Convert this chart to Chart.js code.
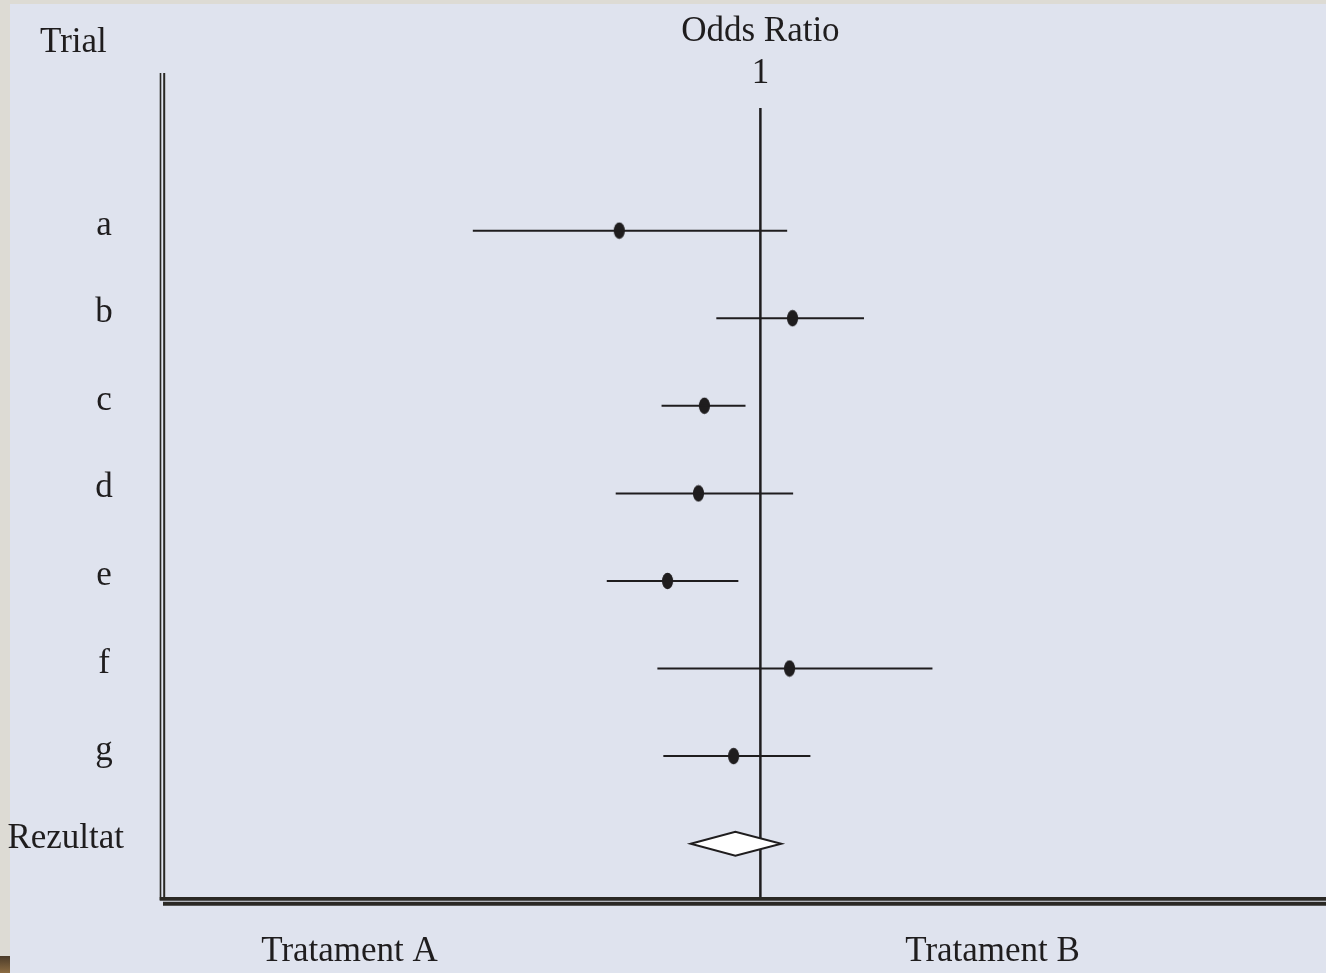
<!DOCTYPE html>
<html>
<head>
<meta charset="utf-8">
<title>Odds Ratio</title>
<script src="https://cdn.jsdelivr.net/npm/chart.js@4.4.1/dist/chart.umd.min.js"></script>
<style>
    html, body { margin: 0; padding: 0; overflow: hidden; }
    body { width: 1326px; height: 973px; background: #dddbd4; position: relative; }
    #panel { position: absolute; left: 10px; top: 4px; width: 1316px; height: 969px; background: #dfe3ee; }
    #corner { position: absolute; left: 0; top: 956px; width: 10px; height: 17px;
              background: linear-gradient(#4b3b29, #8c6c42); }
    #forest { position: absolute; left: 0; top: 0; }
</style>
</head>
<body>
<div id="panel"></div>
<div id="corner"></div>
<canvas id="forest" width="1326" height="973"></canvas>
<script>
(function () {
    'use strict';

    // --- data ---
    const trials    = ['a', 'b', 'c', 'd', 'e', 'f', 'g'];
    const oddsRatio = [0.763, 1.054, 0.906, 0.896, 0.844, 1.049, 0.955];
    const ciLow     = [0.517, 0.926, 0.834, 0.757, 0.742, 0.827, 0.837];
    const ciHigh    = [1.045, 1.174, 0.975, 1.055, 0.963, 1.289, 1.084];

    const summaryLabel = 'Rezultat';
    const summaryOR    = 0.958;
    const summaryLow   = 0.883;
    const summaryHigh  = 1.035;

    const nullValue   = 1;
    const nullLabel   = '1';
    const xTitle      = 'Odds Ratio';
    const rowTitle    = 'Trial';
    const sideLabels  = ['Tratament A', 'Tratament B'];
    const sideAnchors = [0.31, 1.39];   // odds-ratio value where each caption is centred

    // --- style ---
    const INK   = '#1f1d1e';
    const AXIS  = '#2a2824';
    const FONT  = '35px "Liberation Serif", "Times New Roman", serif';

    // ellipse marker for the point estimates
    const dot = document.createElement('canvas');
    dot.width = 13; dot.height = 18;
    (function () {
        const c = dot.getContext('2d');
        c.fillStyle = INK;
        c.beginPath();
        c.ellipse(6.5, 9, 5.6, 8.2, 0, 0, Math.PI * 2);
        c.fill();
    })();

    const datasets = trials.map((t, i) => ({
        label: t,
        data: [{ x: ciLow[i], y: i }, { x: ciHigh[i], y: i }],
        showLine: true,
        borderColor: INK,
        borderWidth: 2,
        pointRadius: 0,
        pointHoverRadius: 0
    }));
    datasets.push({
        label: 'OR',
        data: trials.map((t, i) => ({ x: oddsRatio[i], y: i })),
        showLine: false,
        pointStyle: dot,
        pointRadius: 9,
        pointHoverRadius: 9
    });

    const x1Pixel = (xs) => xs.getPixelForValue(nullValue);

    const forestPlugin = {
        id: 'forest',
        beforeDatasetsDraw(chart) {
            const ctx = chart.ctx;
            const { top, bottom } = chart.chartArea;
            const x1 = x1Pixel(chart.scales.x);
            ctx.save();
            // null line
            ctx.strokeStyle = INK;
            ctx.lineWidth = 2.5;
            ctx.beginPath();
            ctx.moveTo(x1, top + 35);
            ctx.lineTo(x1, bottom);
            ctx.stroke();
            ctx.restore();
        },
        afterDatasetsDraw(chart) {
            const ctx = chart.ctx;
            const xs = chart.scales.x, ys = chart.scales.y;
            const { top, bottom, left, right } = chart.chartArea;
            ctx.save();

            // double axes
            ctx.strokeStyle = AXIS;
            ctx.lineWidth = 1.6;
            ctx.beginPath();
            ctx.moveTo(left - 4.5, top);
            ctx.lineTo(left - 4.5, bottom + 2);
            ctx.stroke();
            ctx.lineWidth = 2;
            ctx.beginPath();
            ctx.moveTo(left - 0.8, top);
            ctx.lineTo(left - 0.8, bottom + 2);
            ctx.stroke();

            ctx.lineWidth = 3.8;
            ctx.beginPath();
            ctx.moveTo(left - 5.3, bottom + 0.8);
            ctx.lineTo(right, bottom + 0.8);
            ctx.stroke();
            ctx.lineWidth = 4;
            ctx.beginPath();
            ctx.moveTo(left - 2, bottom + 5.7);
            ctx.lineTo(right, bottom + 5.7);
            ctx.stroke();

            // summary diamond
            const yd = ys.getPixelForValue(trials.length);
            ctx.beginPath();
            ctx.moveTo(xs.getPixelForValue(summaryLow), yd);
            ctx.lineTo(xs.getPixelForValue(summaryOR), yd - 12);
            ctx.lineTo(xs.getPixelForValue(summaryHigh), yd);
            ctx.lineTo(xs.getPixelForValue(summaryOR), yd + 12);
            ctx.closePath();
            ctx.fillStyle = '#ffffff';
            ctx.fill();
            ctx.lineWidth = 2;
            ctx.strokeStyle = INK;
            ctx.stroke();

            // texts
            ctx.fillStyle = INK;
            ctx.font = FONT;
            ctx.textBaseline = 'alphabetic';
            ctx.textAlign = 'center';
            const rows = trials.concat([summaryLabel]);
            rows.forEach((r, i) => {
                const w = ctx.measureText(r).width;
                const cx = Math.min(104, 124 - w / 2);
                ctx.fillText(r, cx, ys.getPixelForValue(i) + 4);
            });

            ctx.textAlign = 'left';
            ctx.fillText(rowTitle, 40, 52);

            ctx.textAlign = 'center';
            ctx.fillText(xTitle, x1Pixel(xs), 41);
            ctx.fillText(nullLabel, x1Pixel(xs), 83);

            sideLabels.forEach((s, i) => {
                ctx.fillText(s, xs.getPixelForValue(sideAnchors[i]), 961);
            });
            ctx.restore();
        }
    };

    new Chart(document.getElementById('forest'), {
        type: 'scatter',
        data: { datasets },
        plugins: [forestPlugin],
        options: {
            responsive: false,
            animation: false,
            events: [],
            layout: { autoPadding: false, padding: { left: 165, right: 0, top: 73, bottom: 75 } },
            plugins: {
                legend: { display: false },
                tooltip: { enabled: false }
            },
            scales: {
                x: { type: 'linear', min: 0, max: 1.95, display: false },
                y: { type: 'linear', min: -1.8, max: 7.62, reverse: true, display: false }
            }
        }
    });
}());
</script>
</body>
</html>
